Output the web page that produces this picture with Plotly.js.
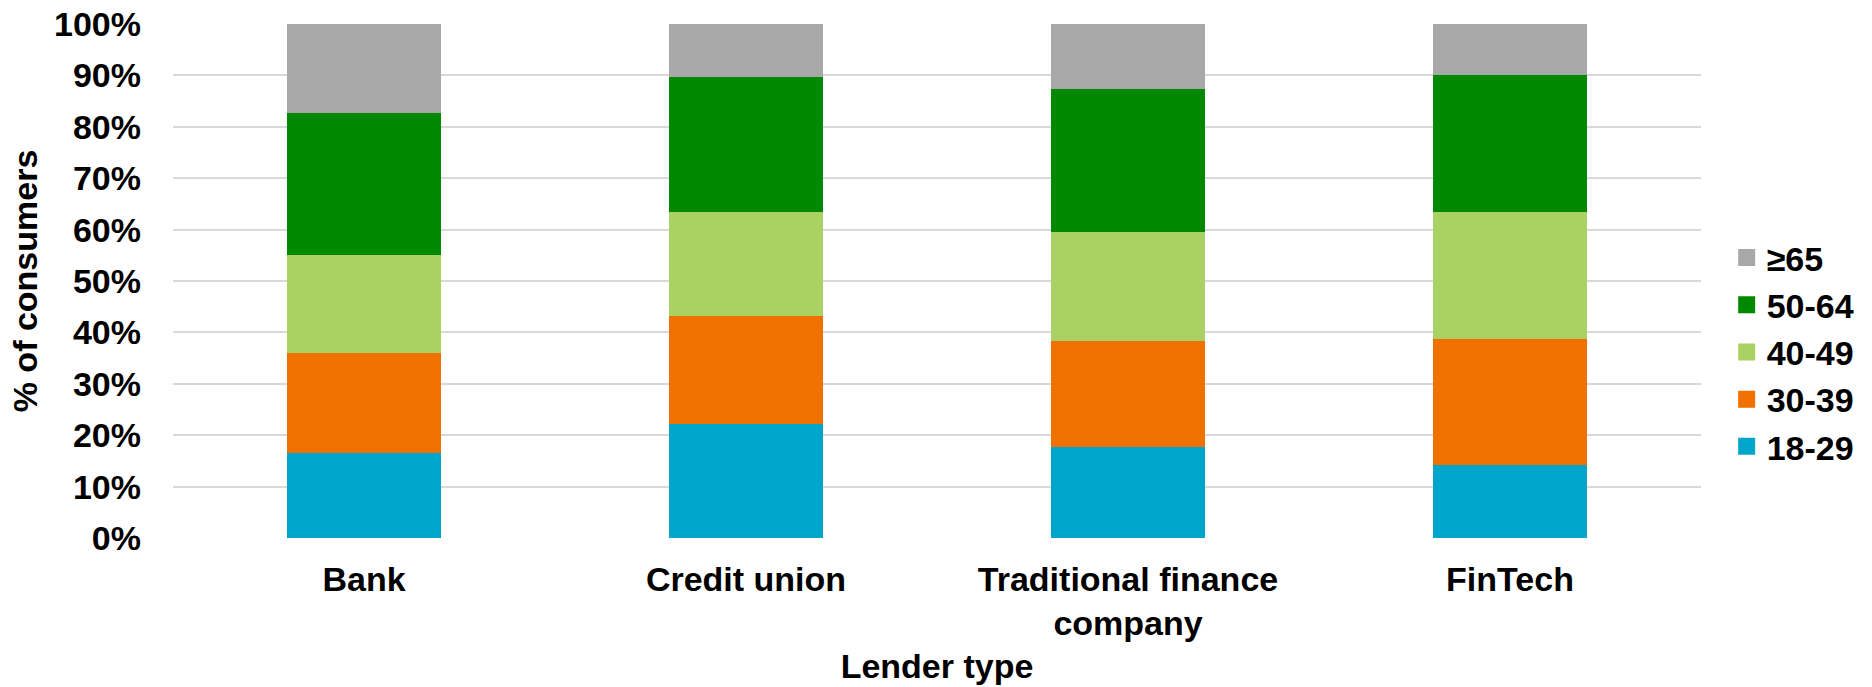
<!DOCTYPE html>
<html>
<head>
<meta charset="utf-8">
<script src="https://cdn.plot.ly/plotly-3.0.1.min.js"></script>
<style>html,body{margin:0;padding:0;background:#fff;}#chart{width:1872px;height:687px;}</style>
</head>
<body>
<div id="chart"></div>
<script>
const categories = ["Bank", "Credit union", "Traditional finance<br>company", "FinTech"];
const seriesNames = ["18-29", "30-39", "40-49", "50-64", "\u226565"];
const age18_29 = [16.6, 22.2, 17.7, 14.2];
const age30_39 = [19.4, 21.0, 20.7, 24.6];
const age40_49 = [19.0, 20.3, 21.2, 24.7];
const age50_64 = [27.7, 26.1, 27.7, 26.5];
const age65plus = [17.3, 10.4, 12.7, 10.0];
const yTickVals = [0, 10, 20, 30, 40, 50, 60, 70, 80, 90, 100];
const yTickText = ["0%", "10%", "20%", "30%", "40%", "50%", "60%", "70%", "80%", "90%", "100%"];

const colors = ["#00a5cb", "#f07000", "#a9d163", "#008900", "#a8a8a8"];
const seriesValues = [age18_29, age30_39, age40_49, age50_64, age65plus];

const font = "Liberation Sans, Arial, sans-serif";
const FS = 34;

// actual bars (no legend entries)
const barTraces = seriesValues.map((vals, i) => ({
  type: "bar",
  name: seriesNames[i],
  x: categories,
  y: vals,
  marker: {color: colors[i], line: {width: 0}},
  showlegend: false,
  hoverinfo: "skip"
}));
// legend entries (null values, larger swatches)
const legendTraces = seriesNames.map((nm, i) => ({
  type: "bar",
  name: "<b>" + nm + "</b>",
  x: [categories[0]],
  y: [null],
  marker: {color: colors[i], line: {width: 5, color: colors[i]}},
  legendgroup: "g" + i,
  showlegend: true,
  hoverinfo: "skip"
}));

const layout = {
  width: 1872, height: 687,
  barmode: "stack",
  bargap: 0.597,
  paper_bgcolor: "#fff", plot_bgcolor: "#fff",
  margin: {l: 173, r: 171, t: 24, b: 149, autoexpand: false},
  font: {family: font, color: "#000", size: FS},
  showlegend: true,
  legend: {
    x: 1.0168, xanchor: "left", y: 0.362, yanchor: "middle",
    traceorder: "reversed",
    tracegroupgap: 15,
    font: {family: font, size: FS, color: "#000"},
    itemwidth: 30
  },
  xaxis: {
    type: "category",
    tickfont: {family: font, size: FS, color: "#000"},
    tickprefix: "<b>", ticksuffix: "</b>",
    showline: false, showgrid: false, zeroline: false,
    ticks: "",
    ticklabelstandoff: 18,
    title: {text: "<b>Lender type</b>", font: {family: font, size: FS, color: "#000"}, standoff: 12}
  },
  yaxis: {
    range: [0, 100],
    tickvals: yTickVals,
    ticktext: yTickText.map(t => "<b>" + t + "</b>"),
    tickfont: {family: font, size: FS, color: "#000"},
    showgrid: true, gridcolor: "#d9d9d9", gridwidth: 2,
    zeroline: false, showline: false, ticks: "",
    ticklabelstandoff: 31,
    title: {text: "<b>% of consumers</b>", font: {family: font, size: FS, color: "#000"}, standoff: 6}
  }
};

Plotly.newPlot("chart", barTraces.concat(legendTraces), layout, {displayModeBar: false, staticPlot: true});
</script>
</body>
</html>
